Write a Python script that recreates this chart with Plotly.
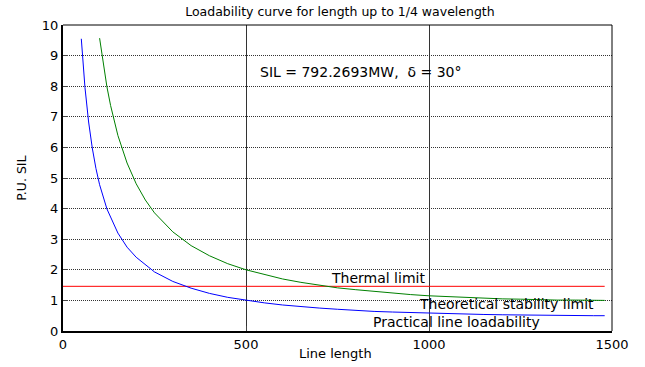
import plotly.graph_objects as go

length_practical = [50, 60, 70, 80, 90, 100, 120, 150, 175, 200, 250, 300, 350, 400, 450, 500,
                    550, 600, 650, 700, 750, 800, 850, 900, 950, 1000, 1050, 1100, 1150, 1200,
                    1250, 1300, 1350, 1400, 1450, 1480]
practical = [9.55, 7.96, 6.83, 5.98, 5.31, 4.78, 3.99, 3.20, 2.74, 2.41, 1.93, 1.62, 1.40, 1.23,
             1.10, 1.00, 0.92, 0.85, 0.79, 0.75, 0.71, 0.67, 0.64, 0.62, 0.60, 0.58, 0.56, 0.55,
             0.54, 0.53, 0.52, 0.51, 0.51, 0.50, 0.50, 0.50]

length_theoretical = [100, 110, 120, 130, 140, 150, 175, 200, 225, 250, 300, 350, 400, 450, 500,
                      550, 600, 650, 700, 750, 800, 850, 900, 950, 1000, 1050, 1100, 1150, 1200,
                      1250, 1300, 1350, 1400, 1450, 1480]
theoretical = [9.57, 8.70, 7.98, 7.37, 6.85, 6.39, 5.49, 4.81, 4.28, 3.86, 3.24, 2.79, 2.46,
               2.20, 2.00, 1.84, 1.70, 1.59, 1.49, 1.41, 1.35, 1.29, 1.24, 1.19, 1.15, 1.12,
               1.10, 1.07, 1.05, 1.04, 1.02, 1.01, 1.01, 1.00, 1.00]

thermal_x = [0, 1480]
thermal_y = [1.46, 1.46]

x_ticks = [0, 500, 1000, 1500]
y_ticks = list(range(0, 11))

FONT = "DejaVu Sans, Liberation Sans, Arial, sans-serif"

fig = go.Figure()
fig.add_trace(go.Scatter(x=thermal_x, y=thermal_y, mode="lines",
                         line=dict(color="#ff0000", width=1), showlegend=False))
fig.add_trace(go.Scatter(x=length_theoretical, y=theoretical, mode="lines",
                         line=dict(color="#008000", width=1), showlegend=False))
fig.add_trace(go.Scatter(x=length_practical, y=practical, mode="lines",
                         line=dict(color="#0000ff", width=1), showlegend=False))

fig.update_layout(
    width=645, height=367,
    margin=dict(l=63, r=33, t=25, b=36),
    paper_bgcolor="white", plot_bgcolor="white",
    font=dict(family=FONT, size=13, color="black"),
    title=dict(text="Loadability curve for length up to 1/4 wavelength",
               x=0.527, xanchor="center", yref="container", y=1 - 12 / 367,
               yanchor="middle", font=dict(size=12.5)),
    showlegend=False,
)
fig.update_xaxes(range=[0, 1500], tickvals=x_ticks, ticks="inside", ticklen=5,
                 showline=True, linecolor="black", linewidth=2,
                 showgrid=True, gridcolor="#333333", gridwidth=1,
                 zeroline=False, tickfont=dict(size=13))
fig.update_yaxes(range=[0, 10], tickvals=y_ticks, ticks="inside", ticklen=5,
                 showline=True, linecolor="black", linewidth=2,
                 showgrid=True, gridcolor="#333333", gridwidth=1, griddash="1px,1px",
                 zeroline=False, tickfont=dict(size=13))

# top and right frame lines
fig.add_shape(type="line", xref="paper", yref="paper", x0=0, x1=1, y0=1, y1=1,
              line=dict(color="black", width=1))
fig.add_shape(type="line", xref="paper", yref="paper", x0=1, x1=1, y0=0, y1=1,
              line=dict(color="black", width=1))

fig.add_annotation(text="Line length", xref="paper", yref="paper", x=0.497, y=-0.075,
                   xanchor="center", yanchor="middle", showarrow=False,
                   font=dict(size=13))
fig.add_annotation(text="P.U. SIL", xref="paper", yref="paper", x=-0.077, y=0.5,
                   xanchor="center", yanchor="middle", textangle=-90, showarrow=False,
                   font=dict(size=12.5))

fig.add_annotation(text="SIL = 792.2693MW,  \u03b4 = 30\u00b0", x=815, y=8.45,
                   xanchor="center", yanchor="middle", showarrow=False, font=dict(size=14))
fig.add_annotation(text="Thermal limit", x=860, y=1.73,
                   xanchor="center", yanchor="middle", showarrow=False, font=dict(size=14))
fig.add_annotation(text="Theoretical stability limit", x=1211, y=0.87,
                   xanchor="center", yanchor="middle", showarrow=False, font=dict(size=14))
fig.add_annotation(text="Practical line loadability", x=1076, y=0.29,
                   xanchor="center", yanchor="middle", showarrow=False, font=dict(size=14))

fig.write_html("out.html", config={"displayModeBar": False},
               post_script="document.body.style.margin='0';document.body.style.overflow='hidden';")
